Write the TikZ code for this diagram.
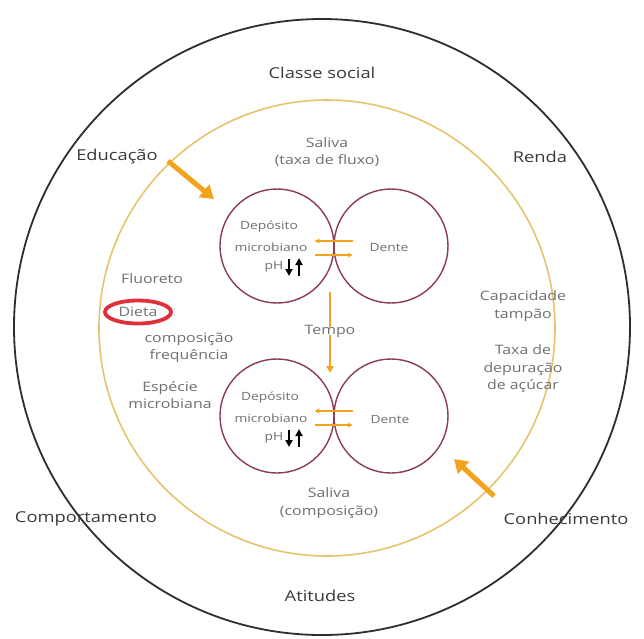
\documentclass[tikz,border=0pt]{standalone}
\usepackage{fontspec}
\setmainfont{Open Sans}[FakeStretch=1.22]
\usetikzlibrary{arrows.meta,shapes.geometric}
\definecolor{ringcol}{HTML}{2E2E2E}
\definecolor{goldring}{HTML}{E8C36E}
\definecolor{maroon}{HTML}{8A3B55}
\definecolor{orangearr}{HTML}{F2A21C}
\definecolor{redmark}{HTML}{E0303A}
\definecolor{outertext}{HTML}{3A3A3A}
\definecolor{innertext}{HTML}{707070}
\tikzset{
  outerlab/.style={font=\fontsize{15}{17}\selectfont, text=outertext, inner sep=1pt},
  innerlab/.style={font=\fontsize{13}{17.5}\selectfont, text=innertext, inner sep=1pt, align=center},
  circlab/.style={font=\fontsize{11.3}{13}\selectfont, text=innertext, inner sep=0.5pt},
  pinkcirc/.style={circle, draw=maroon, line width=1.4pt, minimum size=114pt, inner sep=0pt},
  bigarrow/.style={draw=orangearr, line width=5pt, -{Triangle[length=13pt,width=16pt]}},
  smallarr/.style={draw=orangearr, line width=1.3pt, -{Stealth[length=5pt,width=5pt]}},
  tempoline/.style={draw=orangearr, line width=1.8pt},
  pharr/.style={draw=black, line width=2.2pt, -{Triangle[length=7pt,width=7pt]}}
}
\begin{document}
\begin{tikzpicture}[x=1pt,y=-1pt]
\useasboundingbox (0,0) rectangle (644,638);
\fill[white] (0,0) rectangle (644,638);
% rings
\node[circle, draw=ringcol, line width=1.8pt, minimum size=616pt, inner sep=0pt] (outer) at (322,327) {};
\node[circle, draw=goldring, line width=1.6pt, minimum size=456pt, inner sep=0pt] (gold) at (327,328) {};
% pink circles
\node[pinkcirc] (depA) at (277,246) {};
\node[pinkcirc] (denA) at (391,246) {};
\node[pinkcirc] (depB) at (277,416) {};
\node[pinkcirc] (denB) at (391,416) {};
% circle labels upper
\node[circlab] (depAa) at (269,227) {Depósito};
\node[circlab] (depAb) at (271,247) {microbiano};
\node[circlab, anchor=east] (phA) at (284,267) {pH};
\node[circlab] (denAt) at (389,248) {Dente};
% circle labels lower
\node[circlab] (depBa) at (270,398) {Depósito};
\node[circlab] (depBb) at (271,418) {microbiano};
\node[circlab, anchor=east] (phB) at (284,438) {pH};
\node[circlab] (denBt) at (390,420) {Dente};
% pH arrows
\draw[pharr] ([shift={(5,-8)}]phA.east) -- ([shift={(5,9)}]phA.east);
\draw[pharr] ([shift={(15,9)}]phA.east) -- ([shift={(15,-9)}]phA.east);
\draw[pharr] ([shift={(5,-8)}]phB.east) -- ([shift={(5,9)}]phB.east);
\draw[pharr] ([shift={(15,9)}]phB.east) -- ([shift={(15,-9)}]phB.east);
% small arrows between circles
\draw[smallarr] ([shift={(18,-5)}]depA.east) -- ([shift={(-20,-5)}]depA.east);
\draw[smallarr] ([shift={(-20,9)}]depA.east) -- ([shift={(18,9)}]depA.east);
\draw[smallarr] ([shift={(18,-5)}]depB.east) -- ([shift={(-20,-5)}]depB.east);
\draw[smallarr] ([shift={(-20,9)}]depB.east) -- ([shift={(18,9)}]depB.east);
% Tempo
\node[innerlab] (tempo) at (330,331) {Tempo};
\coordinate (ttop) at (330,292);
\coordinate (tbot) at (330,373);
\draw[tempoline] (ttop) -- ([yshift=-3]tempo.north);
\draw[tempoline, -{Triangle[length=7pt,width=7pt]}] ([yshift=3]tempo.south) -- (tbot);
% outer labels
\node[outerlab] (classe) at (322,73) {Classe social};
\node[outerlab] (educ) at (117,157) {Educação};
\node[outerlab] (renda) at (540,157) {Renda};
\node[outerlab] (comport) at (86,519) {Comportamento};
\node[outerlab] (conhec) at (566,519) {Conhecimento};
\node[outerlab] (atit) at (320,596) {Atitudes};
% inner labels
\node[innerlab] (salA) at (327,152) {Saliva\\(taxa de fluxo)};
\node[innerlab] (salB) at (329,503) {Saliva\\(composição)};
\node[innerlab] (fluor) at (152,279) {Fluoreto};
\node[innerlab, ellipse, draw=redmark, line width=3.8pt, minimum width=66pt, minimum height=23pt, inner sep=0pt] (dieta) at (138,312) {Dieta};
\node[innerlab] (compos) at (189,348) {composição\\frequência};
\node[innerlab] (especie) at (170,395) {Espécie\\microbiana};
\node[innerlab] (capac) at (523,306) {Capacidade\\tampão};
\node[innerlab] (taxa) at (523,369) {Taxa de\\depuração\\de açúcar};
% big arrows
\coordinate (eduS) at (168,161);
\coordinate (eduE) at (214,199);
\draw[bigarrow] (eduS) -- (eduE);
\coordinate (conS) at (494,496);
\coordinate (conE) at (454,459);
\draw[bigarrow] (conS) -- (conE);
\end{tikzpicture}
\end{document}
